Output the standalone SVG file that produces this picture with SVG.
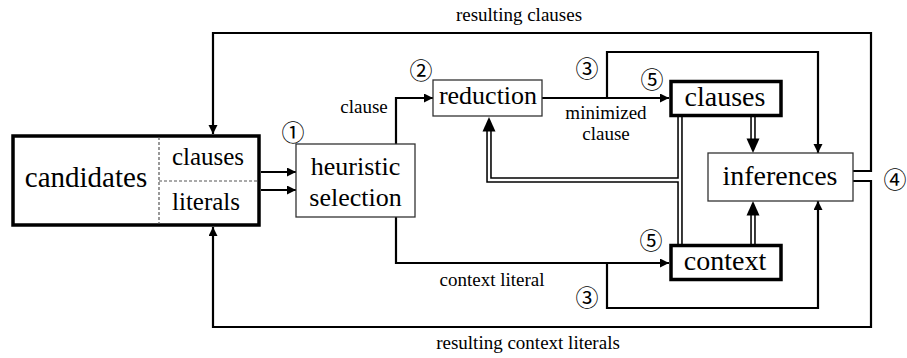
<svg xmlns="http://www.w3.org/2000/svg" width="907" height="358" viewBox="0 0 907 358">
<defs>
<marker id="ah" markerUnits="userSpaceOnUse" markerWidth="10" markerHeight="10" refX="9" refY="4.5" orient="auto">
<path d="M0,0 L9,4.5 L0,9 z" fill="#000"/>
</marker>
<style>
.ln{fill:none;stroke:#000;stroke-width:2.2}
.dbo{fill:none;stroke:#000;stroke-width:5.5;stroke-linejoin:miter}
.dbi{fill:none;stroke:#fff;stroke-width:2.4;stroke-linejoin:miter}
.thin{fill:#fff;stroke:#333;stroke-width:1.3}
.thick{fill:#fff;stroke:#000;stroke-width:3.5}
.dash{fill:none;stroke:#555;stroke-width:1.2;stroke-dasharray:3,2}
text{font-family:"Liberation Serif","Times New Roman",serif;fill:#000;text-anchor:middle}
.big{font-size:28px}
.mid{font-size:25px}
.lbl{font-size:19px}
.num{font-family:"Noto Sans CJK JP","DejaVu Sans",sans-serif;font-size:23px;dominant-baseline:central}
</style>
</defs>
<g id="connectors">
<path class="ln" d="M261,172 H296" marker-end="url(#ah)"/>
<path class="ln" d="M261,190 H296" marker-end="url(#ah)"/>
<path class="ln" d="M396,144 V98 H433" marker-end="url(#ah)"/>
<path class="ln" d="M542,98 H669" marker-end="url(#ah)"/>
<path class="ln" d="M607,98 V52 H818 V153" marker-end="url(#ah)"/>
<path class="ln" d="M396,217 V263 H669" marker-end="url(#ah)"/>
<path class="ln" d="M607,263 V308 H818 V201" marker-end="url(#ah)"/>
<path class="ln" d="M853,171 H871 V33 H213 V134" marker-end="url(#ah)"/>
<path class="ln" d="M853,181 H871 V327 H213 V227" marker-end="url(#ah)"/>
<path class="dbo" d="M753,116 V139"/>
<path class="dbo" d="M753,246 V215"/>
<path class="dbo" d="M680,115 V246"/>
<path class="dbo" d="M680,180 H489 V131"/>
<path class="dbi" d="M753,116 V139"/>
<path class="dbi" d="M753,246 V215"/>
<path class="dbi" d="M680,115 V246"/>
<path class="dbi" d="M680,180 H489 V131"/>
<polygon points="746.5,138.5 759.5,138.5 753,153" fill="#000"/>
<polygon points="746.5,215.5 759.5,215.5 753,201" fill="#000"/>
<polygon points="482.5,131.5 495.5,131.5 489,117" fill="#000"/>
</g>
<g id="candidates">
<rect class="thick" x="13" y="136" width="246" height="89"/>
<line class="dash" x1="159" y1="137" x2="159" y2="224"/>
<line class="dash" x1="159" y1="181" x2="258" y2="181"/>
<text class="big" x="86" y="187" style="font-size:29px">candidates</text>
<text class="mid" x="208" y="165">clauses</text>
<text class="mid" x="206" y="210">literals</text>
</g>
<g id="heuristic">
<rect class="thin" x="296" y="144" width="119" height="73"/>
<text x="355.5" y="175" style="font-size:26px">heuristic</text>
<text x="355.5" y="206" style="font-size:26px">selection</text>
</g>
<g id="reduction">
<rect class="thin" x="433" y="80" width="109" height="36"/>
<text x="488" y="104" style="font-size:26px">reduction</text>
</g>
<g id="clauses">
<rect class="thick" x="671" y="81.5" width="110" height="34"/>
<text class="big" x="725" y="106">clauses</text>
</g>
<g id="context">
<rect class="thick" x="671" y="245.5" width="110" height="34"/>
<text class="big" x="725" y="270">context</text>
</g>
<g id="inferences">
<rect class="thin" x="708" y="153" width="145" height="48"/>
<text class="big" x="780" y="185">inferences</text>
</g>
<g id="labels">
<text class="lbl" x="364" y="113">clause</text>
<text class="lbl" x="606" y="119">minimized</text>
<text class="lbl" x="606" y="140">clause</text>
<text class="lbl" x="492" y="286">context literal</text>
<text class="lbl" x="519" y="21">resulting clauses</text>
<text class="lbl" x="528" y="349">resulting context literals</text>
<text class="num" x="293" y="131">①</text>
<text class="num" x="421" y="69">②</text>
<text class="num" x="587" y="67">③</text>
<text class="num" x="652" y="78">⑤</text>
<text class="num" x="895" y="178">④</text>
<text class="num" x="651" y="239">⑤</text>
<text class="num" x="587" y="296">③</text>
</g>
</svg>
